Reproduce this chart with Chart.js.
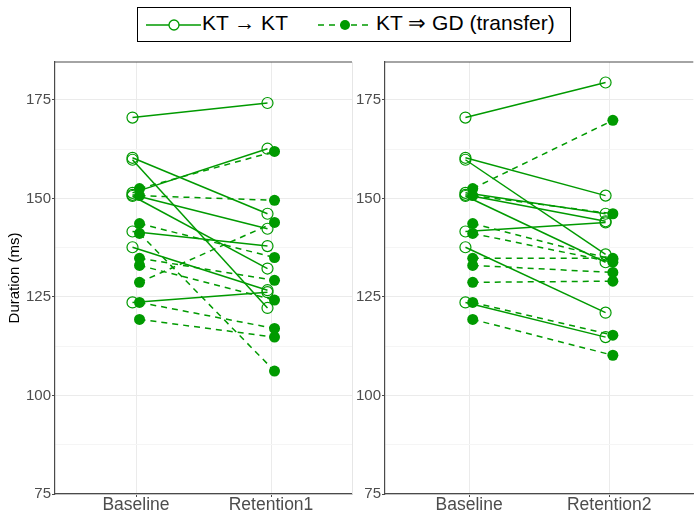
<!DOCTYPE html>
<html>
<head>
<meta charset="utf-8">
<script src="https://cdn.jsdelivr.net/npm/chart.js@4/dist/chart.umd.min.js"></script>
<style>
  html, body { margin: 0; padding: 0; background: #fff; }
  body { width: 696px; height: 512px; position: relative; overflow: hidden;
         font-family: "Liberation Sans", Arial, sans-serif; }
  canvas { position: absolute; top: 0; }
  #panel1 { left: 0; }
  #panel2 { left: 340px; }
  #legend { position: absolute; left: 137px; top: 7px; width: 432px; height: 33px;
            border: 1.5px solid #000; background: #fff; z-index: 2; }
  #legend svg { position: absolute; top: 0; }
  #legend span { position: absolute; top: 3px; font-size: 21px; color: #000; white-space: nowrap; }
</style>
</head>
<body>
<div id="legend">
  <svg width="60" height="33" style="left:6px">
    <line x1="2" y1="17" x2="57" y2="17" stroke="#009a00" stroke-width="1.5"/>
    <circle cx="30" cy="17" r="5" fill="#fff" stroke="#009a00" stroke-width="1.3"/>
  </svg>
  <span style="left:64px">KT → KT</span>
  <svg width="60" height="33" style="left:178px">
    <line x1="2" y1="17" x2="55" y2="17" stroke="#009a00" stroke-width="1.5" stroke-dasharray="6,5"/>
    <circle cx="29" cy="17" r="5" fill="#009a00"/>
  </svg>
  <span style="left:238px">KT ⇒ GD (transfer)</span>
</div>
<canvas id="panel1" width="360" height="512"></canvas>
<canvas id="panel2" width="360" height="512"></canvas>
<script>
// Time points and the y ticks shared by both panels
const timepoints = ['Baseline', 'Retention1', 'Retention2'];
const yTicks = [75, 87.5, 100, 112.5, 125, 137.5, 150, 162.5, 175];

// KT -> KT group (durations in ms), one entry per participant
const ktBaseline   = [170.5, 160.3, 159.8, 151.4, 150.9, 150.6, 141.6, 137.6, 123.6];
const ktRetention1 = [174.2, 146.1, 122.2, 162.6, 142.3, 132.2, 137.9, 126.7, 126.2];
const ktRetention2 = [179.4, 150.7, 135.8, 146.1, 144.2, 133.8, 143.9, 121.0, 114.8];

// KT => GD transfer group
const gdBaseline   = [152.5, 150.7, 143.6, 141.1, 134.8, 133.0, 128.7, 123.6, 119.3];
const gdRetention1 = [161.9, 149.5, 135.0, 106.2, 129.2, 124.2, 143.9, 117.0, 114.8];
const gdRetention2 = [169.8, 146.1, 134.5, 133.8, 134.8, 131.2, 129.0, 115.3, 110.2];

const GREEN = '#009a00';
const DODGE = 0.026;
const FONT = '"Liberation Sans", Arial, sans-serif';

function pairSets(base, ret, shift, filled) {
  return base.map((b, i) => ({
    data: [{ x: 1 + shift, y: b }, { x: 2 + shift, y: ret[i] }],
    borderColor: GREEN,
    borderWidth: 1.5,
    borderDash: filled ? [6, 5] : [],
    pointRadius: 5.5,
    pointBorderWidth: filled ? 0 : 1.2,
    pointBackgroundColor: filled ? GREEN : 'rgba(255,255,255,0)',
    pointBorderColor: GREEN,
    fill: false,
    tension: 0
  }));
}

// top edge + optional light right edge of the panel
const frame = {
  id: 'frame',
  afterDraw(chart, args, opts) {
    const { ctx, chartArea: a } = chart;
    ctx.save();
    if (opts.rightEdge) {
      ctx.strokeStyle = '#e6e6e6';
      ctx.lineWidth = 1;
      ctx.beginPath();
      ctx.moveTo(a.right + 0.5, a.top);
      ctx.lineTo(a.right + 0.5, a.bottom);
      ctx.stroke();
    }
    ctx.strokeStyle = '#4a4a4a';
    ctx.lineWidth = 1.2;
    ctx.beginPath();
    ctx.moveTo(a.left, a.top);
    ctx.lineTo(a.right, a.top);
    ctx.stroke();
    ctx.restore();
  }
};

function makePanel(id, retLabel, ktRet, gdRet, axisWidth, showTitle, padRight, rightEdge) {
  new Chart(document.getElementById(id), {
    type: 'line',
    data: {
      datasets: [
        ...pairSets(ktBaseline, ktRet, -DODGE, false),
        ...pairSets(gdBaseline, gdRet, DODGE, true)
      ]
    },
    options: {
      responsive: false,
      animation: false,
      devicePixelRatio: 1,
      layout: { padding: { top: 62, right: padRight, bottom: 0, left: 0 } },
      plugins: { legend: { display: false }, tooltip: { enabled: false }, frame: { rightEdge } },
      scales: {
        x: {
          type: 'linear',
          min: 0.4,
          max: 2.6,
          afterBuildTicks: s => { s.ticks = [{ value: 1 }, { value: 2 }]; },
          afterFit: s => { s.height = 18; },
          ticks: {
            callback: v => (v === 1 ? timepoints[0] : retLabel),
            color: '#4d4d4d',
            font: { family: FONT, size: 17.5 },
            padding: -2,
            maxRotation: 0
          },
          grid: { color: '#ebebeb', lineWidth: 1, tickLength: 3, tickColor: '#4a4a4a' },
          border: { color: '#4a4a4a', width: 1.2 }
        },
        y: {
          type: 'linear',
          min: 75,
          max: 184.6,
          afterBuildTicks: s => { s.ticks = yTicks.map(v => ({ value: v })); },
          afterFit: s => { s.width = axisWidth; },
          ticks: {
            callback: v => (v % 25 === 0 ? String(v) : ''),
            color: '#4d4d4d',
            font: { family: FONT, size: 15 },
            padding: 1
          },
          grid: {
            color: c => (c.tick && c.tick.value % 25 === 0 ? '#ebebeb' : '#f5f5f5'),
            lineWidth: 1,
            tickLength: 3,
            tickColor: c => (c.tick && c.tick.value % 25 === 0 ? '#4a4a4a' : 'rgba(0,0,0,0)')
          },
          border: { color: '#4a4a4a', width: 1.2 },
          title: {
            display: showTitle,
            text: 'Duration (ms)',
            color: '#000',
            font: { family: FONT, size: 15 },
            padding: { top: 6, bottom: 0 }
          }
        }
      }
    },
    plugins: [frame]
  });
}

makePanel('panel1', timepoints[1], ktRetention1, gdRetention1, 55, true, 8, true);
makePanel('panel2', timepoints[2], ktRetention2, gdRetention2, 45, false, 0, false);
</script>
</body>
</html>
